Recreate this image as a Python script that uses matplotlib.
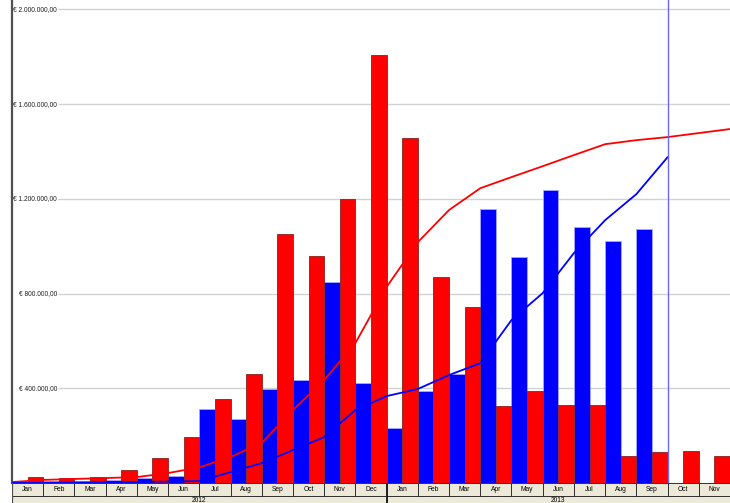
import numpy as np
import matplotlib
matplotlib.use("Agg")
import matplotlib.pyplot as plt

# month labels (2012 Jan .. 2013 Nov)
months = ["Jan", "Feb", "Mar", "Apr", "May", "Jun", "Jul", "Aug", "Sep", "Oct", "Nov", "Dec"]
month_labels = months + months[:11]
years = ["2012", "2013"]
year_start = [0, 12]
year_len = [12, 11]

# monthly bars (EUR)
blue_bars = [0, 8000, 8000, 12000, 20000, 30000, 312000, 270000, 397000, 435000, 849000, 422000,
             232000, 388000, 460000, 1157000, 954000, 1237000, 1081000, 1022000, 1072000, 0, 0]
red_bars = [25000, 21000, 25000, 55000, 105000, 195000, 355000, 460000, 1051000, 958000, 1199000, 1807000,
            1457000, 870000, 743000, 325000, 388000, 329000, 329000, 114000, 131000, 135000, 114000]

# running lines, one value per month end (first value = start of Jan 2012)
red_line = [4000, 13000, 17000, 21000, 25000, 42000, 66000, 110000, 169000, 308000, 435000, 591000, 828000,
            1017000, 1153000, 1245000, 1292000, 1338000, 1385000, 1431000, 1448000, 1461000, 1478000, 1495000]
blue_line = [0, 1000, 2000, 3000, 4000, 6000, 8000, 46000, 84000, 139000, 194000, 308000, 367000,
             397000, 456000, 506000, 688000, 802000, 971000, 1110000, 1220000, 1376000]

y_ticks = [400000, 800000, 1200000, 1600000, 2000000]
y_tick_labels = ["€ 400.000,00", "€ 800.000,00", "€ 1.200.000,00", "€ 1.600.000,00", "€ 2.000.000,00"]
today_x = 21

W, H = 730, 503
fig = plt.figure(figsize=(W / 100, H / 100), dpi=100)
fig.patch.set_facecolor("white")

ax = fig.add_axes([12 / W, 20 / H, 718 / W, 483 / H])
ax.set_xlim(0, len(month_labels))
ax.set_ylim(0, 2040000)

x = np.arange(len(month_labels))
ax.bar(x, blue_bars, width=0.5, align="edge", color="#0000ff", edgecolor="#a8a8ff", linewidth=0.6, zorder=2)
ax.bar(x + 0.5, red_bars, width=0.5, align="edge", color="#ff0000", edgecolor="#8a2020", linewidth=0.6, zorder=2)

ax.plot(np.arange(len(red_line)), red_line, color="#ff0000", linewidth=1.3, zorder=3)
ax.plot(np.arange(len(blue_line)), blue_line, color="#0000ff", linewidth=1.3, zorder=3)
ax.axvline(today_x, color="#6868ff", linewidth=1.0, zorder=4)

# value labels sit inside the plot, gridlines start right after them
label_x = 45 / 718
ax.hlines(y_ticks, label_x + 0.002, 1, transform=ax.get_yaxis_transform(),
          color="#d2d2d2", linewidth=1.0, zorder=0.5)
for v, lab in zip(y_ticks, y_tick_labels):
    ax.text(label_x, v, lab, transform=ax.get_yaxis_transform(), ha="right", va="center",
            fontsize=4.8, color="#202020", family="Liberation Sans", zorder=1)

ax.set_xticks([])
ax.set_yticks([])
for s in ["top", "right", "bottom"]:
    ax.spines[s].set_visible(False)
ax.spines["left"].set_color("#505050")
ax.spines["left"].set_linewidth(1.6)

# date band below the plot
ax2 = fig.add_axes([12 / W, 0, 718 / W, 20 / H])
ax2.set_xlim(0, len(month_labels))
ax2.set_ylim(0, 20)
ax2.bar(x, 13, bottom=7, width=1, align="edge", color="#ece9d8", edgecolor="#303030", linewidth=0.7)
ax2.bar(year_start, 7, width=year_len, align="edge", color="#ece9d8", edgecolor="#303030", linewidth=0.7)
for i, lab in enumerate(month_labels):
    ax2.text(i + 0.5, 13.3, lab, ha="center", va="center", fontsize=4.8, family="Liberation Sans")
for s, n, lab in zip(year_start, year_len, years):
    ax2.text(s + n / 2, 2.6, lab, ha="center", va="center", fontsize=4.8, family="Liberation Sans")
ax2.axvline(12, color="#202020", linewidth=1.4)
ax2.axis("off")
ax2.axvline(0, color="#505050", linewidth=1.6)

fig.savefig("out.png", dpi=100, facecolor="white")
